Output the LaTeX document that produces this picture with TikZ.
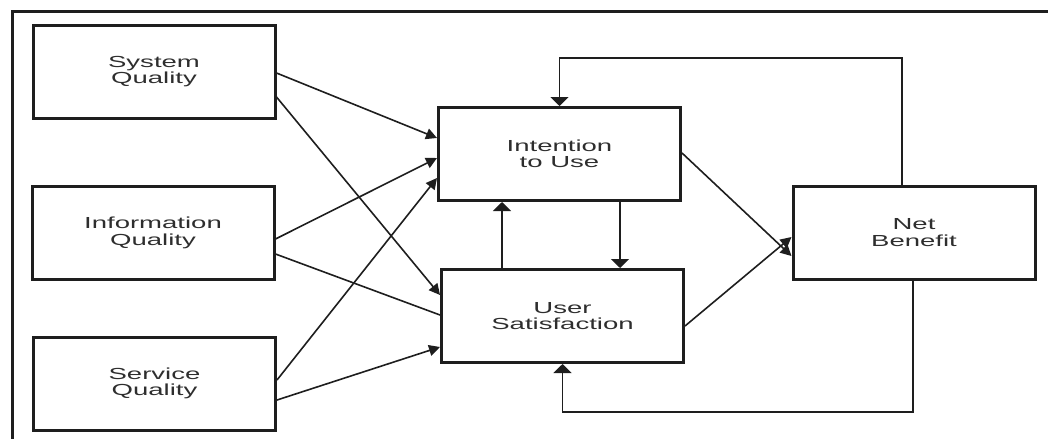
\documentclass[tikz,border=0pt]{standalone}
\usepackage{fontspec}
\newfontfamily\boxfont[FakeStretch=1.72]{Liberation Sans}
\usetikzlibrary{arrows.meta}
\definecolor{ink}{HTML}{1E1E1E}
\definecolor{txt}{HTML}{2E2E2E}
\begin{document}
\begin{tikzpicture}[x=1pt,y=-1pt,
  box/.style={draw=ink, line width=3pt, minimum width=242pt, minimum height=93pt, inner sep=0pt, align=center, font=\boxfont\fontsize{16}{16.5}\selectfont, text=txt},
  link/.style={draw=ink, line width=1.6pt},
  arr/.style={link, -{Triangle[length=11pt,width=11pt]}},
  varr/.style={link, -{Triangle[length=9pt,width=18pt]}},
  frameline/.style={draw=ink, line width=3pt}
]
\useasboundingbox (0,0) rectangle (1048,439);
% frame
\draw[frameline] (1048,11) -- (12,11) -- (12,439);

% boxes
\node[box] (sq) at (154,71.5) {System\\Quality};
\node[box] (iq) at (153,233) {Information\\Quality};
\node[box] (svq) at (154.5,383.5) {Service\\Quality};
\node[box] (iu) at (559.5,154) {Intention\\to Use};
\node[box] (us) at (562.5,316) {User\\Satisfaction};
\node[box] (nb) at (914,232.5) {Net\\Benefit};

% left to middle
\draw[arr] ([yshift=-1.5pt]sq.east) -- ([yshift=16pt]iu.west);
\draw[arr] ([yshift=-25.5pt]sq.east) -- ([yshift=21pt]us.west);
\draw[arr] ([yshift=-6pt]iq.east) -- ([yshift=-4pt]iu.west);
\draw[link] ([yshift=-21pt]iq.east) -- ([yshift=1pt]us.west);
\draw[arr] ([yshift=3.5pt]svq.east) -- ([yshift=-24pt]iu.west);
\draw[arr] ([yshift=-16.5pt]svq.east) -- ([yshift=-31pt]us.west);

% middle verticals
\coordinate (up1) at ([xshift=-60.5pt]us.north);
\draw[varr] (up1) -- (up1 |- iu.south);
\coordinate (dn1) at ([xshift=60.5pt]iu.south);
\draw[varr] (dn1) -- (dn1 |- us.north);

% middle to right
\draw[arr] ([yshift=1pt]iu.east) -- ([yshift=-23.5pt]nb.west);
\draw[arr] ([yshift=-10pt]us.east) -- ([yshift=-4.5pt]nb.west);

% feedback loops
\coordinate (fb1) at ([xshift=-12pt]nb.north);
\coordinate (fb1t) at ([yshift=48pt]iu.north);
\draw[varr] (fb1) |- (fb1t) -- (iu.north);
\coordinate (fb2) at ([xshift=-1pt]nb.south);
\coordinate (fb2b) at ([yshift=-48pt]us.south);
\draw[varr] (fb2) |- (fb2b) -- (us.south);
\end{tikzpicture}
\end{document}
